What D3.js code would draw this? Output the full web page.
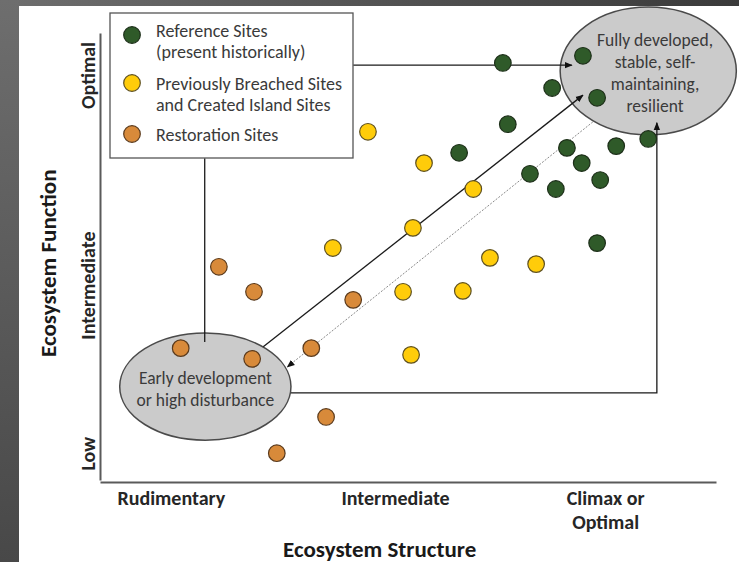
<!DOCTYPE html>
<html><head><meta charset="utf-8">
<script src="https://cdn.jsdelivr.net/npm/d3@7"></script>
<style>
html,body{margin:0;padding:0;background:#fff;}
svg{display:block;font-family:Carlito, Lato, "Open Sans", sans-serif;}
</style></head>
<body>
<svg id="c" width="739" height="562"></svg>
<script>
// ---- data ----
const referenceX = [65.4, 78.4, 73.4, 80.7, 66.2, 58.3, 75.8, 78.2, 83.8, 89.0, 69.8, 74.0, 81.2, 80.7];
const referenceY = [93.3, 94.9, 87.7, 85.5, 79.6, 73.2, 74.3, 70.9, 74.7, 76.3, 68.5, 65.1, 67.1, 53.0];
const breachedX = [43.5, 52.6, 60.6, 50.8, 37.8, 63.3, 70.8, 49.2, 58.9, 50.5];
const breachedY = [77.9, 70.9, 65.1, 56.4, 51.9, 49.7, 48.3, 42.1, 42.3, 28.0];
const restorationX = [19.3, 25.0, 41.1, 13.1, 24.7, 34.3, 36.7, 28.7];
const restorationY = [47.7, 42.1, 40.3, 29.5, 27.1, 29.5, 14.1, 6.0];
const xTickLabels = ["Rudimentary", "Intermediate", "Climax or|Optimal"];
const xTickValues = [11.5, 47.9, 82.0];
const yTickLabels = ["Low", "Intermediate", "Optimal"];
const yTickValues = [6.0, 43.6, 90.6];
const seriesNames = ["Reference Sites|(present historically)", "Previously Breached Sites|and Created Island Sites", "Restoration Sites"];
const seriesFill = ["#2f5a29", "#ffcc0a", "#d88a3a"];
const seriesStroke = ["#1d2f19", "#5e5020", "#5a3a1c"];
const stateLabels = ["Early development|or high disturbance", "Fully developed,|stable, self-|maintaining,|resilient"];

// ---- layout ----
const svg = d3.select("#c");
const x = d3.scaleLinear().domain([0, 100]).range([100, 716]);
const y = d3.scaleLinear().domain([0, 100]).range([480, 33]);
const pxX = d => x(d) - x(0), pxY = d => y(0) - y(d);

// frame background
const defs = svg.append("defs");
const gl = defs.append("linearGradient").attr("id","gl").attr("x1",0).attr("y1",0).attr("x2",0).attr("y2",1);
gl.append("stop").attr("offset","0%").attr("stop-color","#6e6e6e");
gl.append("stop").attr("offset","100%").attr("stop-color","#484848");
const gt = defs.append("linearGradient").attr("id","gt").attr("x1",0).attr("y1",0).attr("x2",1).attr("y2",0);
gt.append("stop").attr("offset","0%").attr("stop-color","#6e6e6e");
gt.append("stop").attr("offset","100%").attr("stop-color","#3a3a3a");
svg.append("rect").attr("x",0).attr("y",0).attr("width",739).attr("height",6).attr("fill","url(#gt)");
svg.append("rect").attr("x",0).attr("y",0).attr("width",19).attr("height",562).attr("fill","url(#gl)");

defs.append("marker").attr("id","ah").attr("viewBox","0 0 10 10").attr("refX",9).attr("refY",5)
  .attr("markerWidth",8).attr("markerHeight",8).attr("orient","auto-start-reverse").attr("markerUnits","userSpaceOnUse")
  .append("path").attr("d","M0,1 L10,5 L0,9 Z").attr("fill","#111");

// axes
const xAxis = svg.append("g").attr("transform","translate(0,482)")
  .call(d3.axisBottom(x).tickValues(xTickValues).tickSize(0).tickFormat((d,i)=>xTickLabels[i]));
const yAxis = svg.append("g").attr("transform","translate(100,0)")
  .call(d3.axisLeft(y).tickValues(yTickValues).tickSize(0).tickFormat((d,i)=>yTickLabels[i]));
[xAxis, yAxis].forEach(a => {
  a.select(".domain").attr("stroke","#5a5a5a").attr("stroke-width",2);
  a.selectAll("text").attr("font-family","Carlito, Lato, sans-serif").attr("font-size",20)
    .attr("font-weight","bold").attr("fill","#262626");
});
xAxis.selectAll(".tick text").each(function(d,i){
  const t = d3.select(this); const parts = xTickLabels[i].split("|");
  t.text(null).attr("y",0).attr("dy",0);
  parts.forEach((p,j)=> t.append("tspan").attr("x",0).attr("y", 16 + j*24).attr("dy","0.35em").text(p));
});
yAxis.selectAll(".tick text").attr("x",0).attr("y",0).attr("dy","0.35em")
  .attr("text-anchor","middle").attr("transform","translate(-12,0) rotate(-90)");

// axis titles
svg.append("text").attr("x", x(45.4)).attr("y", 549).attr("dy","0.35em").attr("text-anchor","middle")
  .attr("font-size",23).attr("font-weight","bold").attr("fill","#1a1a1a").text("Ecosystem Structure");
svg.append("text").attr("transform",`translate(48,${y(48.5)}) rotate(-90)`).attr("dy","0.35em").attr("text-anchor","middle")
  .attr("font-size",23).attr("font-weight","bold").attr("fill","#1a1a1a").text("Ecosystem Function");

// state ellipses
const ellipses = [
  {cx:17.1, cy:20.9, rx:13.9, ry:12.0, lines:stateLabels[0], ty:20.4},
  {cx:89.0, cy:91.5, rx:14.3, ry:14.3, lines:stateLabels[1], ty:91.0, tx:90.1}
];
ellipses.forEach(e => {
  svg.append("ellipse").attr("cx",x(e.cx)).attr("cy",y(e.cy)).attr("rx",pxX(e.rx)).attr("ry",pxY(e.ry))
    .attr("fill","#cbcbcb").attr("stroke","#4a4a4a").attr("stroke-width",1.5);
});

// connector lines
const line = d3.line().x(d=>x(d[0])).y(d=>y(d[1]));
const connectors = [
  {pts:[[41.1,92.8],[76.6,92.8]], arrow:true},
  {pts:[[17.0,72.0],[17.0,30.9]], arrow:false},
  {pts:[[26.5,29.8],[78.4,86.1]], arrow:true},
  {pts:[[31.0,19.5],[90.4,19.5],[90.4,79.9]], arrow:true}
];
connectors.forEach(c => {
  svg.append("path").attr("d",line(c.pts)).attr("fill","none").attr("stroke","#1a1a1a").attr("stroke-width",1.3)
    .attr("marker-end", c.arrow ? "url(#ah)" : null);
});
svg.append("path").attr("d",line([[80.0,80.1],[30.4,25.3]])).attr("fill","none")
  .attr("stroke","#8a8a8a").attr("stroke-width",1).attr("stroke-dasharray","2,1.5").attr("marker-end","url(#ah)");

// points
const series = [
  {xs:restorationX, ys:restorationY, i:2},
  {xs:breachedX, ys:breachedY, i:1},
  {xs:referenceX, ys:referenceY, i:0}
];
series.forEach(s => {
  svg.append("g").selectAll("circle").data(s.xs.map((v,k)=>[v,s.ys[k]])).join("circle")
    .attr("cx",d=>x(d[0])).attr("cy",d=>y(d[1])).attr("r",8.3)
    .attr("fill",seriesFill[s.i]).attr("stroke",seriesStroke[s.i]).attr("stroke-width",1.2);
});

// ellipse texts
ellipses.forEach(e => {
  const parts = e.lines.split("|");
  const t = svg.append("text").attr("text-anchor","middle").attr("font-size",17.5).attr("fill","#3a3a3a");
  const lh = 22, y0 = y(e.ty) - (parts.length-1)*lh/2;
  parts.forEach((p,j)=> t.append("tspan").attr("x", x(e.tx ?? e.cx)).attr("y", y0 + j*lh).attr("dy","0.35em").text(p));
});

// legend
const lg = svg.append("g");
lg.append("rect").attr("x",110).attr("y",13).attr("width",243).attr("height",145)
  .attr("fill","#fff").attr("stroke","#555").attr("stroke-width",1.3);
const legY = [35, 83, 134], legT = [[31,52],[84,105],[135]];
[0,1,2].forEach(i => {
  lg.append("circle").attr("cx",132).attr("cy",legY[i]).attr("r",8.3)
    .attr("fill",seriesFill[i]).attr("stroke",seriesStroke[i]).attr("stroke-width",1.2);
  const parts = seriesNames[i].split("|");
  parts.forEach((p,j)=> lg.append("text").attr("x",156).attr("y",legT[i][j]).attr("dy","0.35em")
    .attr("font-size",18).attr("fill","#3a3a3a").text(p));
});
</script>
</body></html>
